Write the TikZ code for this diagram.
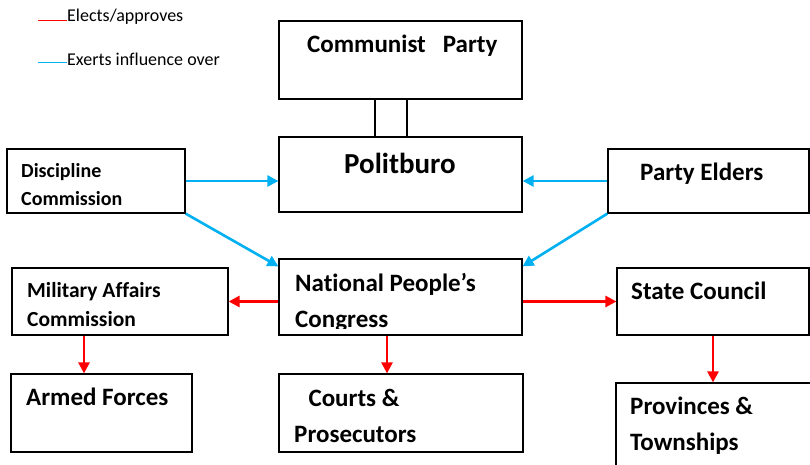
\documentclass[tikz,border=0pt]{standalone}
\usepackage{fontspec}
\setmainfont[Ligatures=NoCommon]{Carlito}
\usetikzlibrary{arrows.meta}
\definecolor{elect}{HTML}{FF0000}
\definecolor{sway}{HTML}{00B0F0}
\definecolor{ink}{HTML}{000000}

\begin{document}
\begin{tikzpicture}[x=1pt,y=-1pt,>={Triangle[length=11pt,width=11pt]},
  box/.style={draw=ink,line width=1.2pt,rectangle,inner sep=0pt},
  lbl/.style={inner sep=0pt,anchor=base west,align=left,font=\bfseries\fontsize{25}{36}\selectfont},
  key/.style={inner sep=0pt,anchor=base west,font=\fontsize{18}{20}\selectfont},
  elects/.style={draw=elect,line width=2.6pt,->},
  sways/.style={draw=sway,line width=2.6pt,->}]
  \clip (0,0) rectangle (810,465);
  \coordinate (k1) at (38,21);
  \coordinate (k2) at (38,63);
  \node[key] (l1) at (67,22) {Elects/approves};
  \node[key] (l2) at (67,66) {Exerts influence over};
  \draw[elect,line width=1pt] (k1) -- (k1 -| l1.base west);
  \draw[sway,line width=1pt] (k2) -- (k2 -| l2.base west);
  \node[box,minimum width=243pt,minimum height=78pt] (cp) at (400.5,60) {};
  \node[box,minimum width=243pt,minimum height=75pt] (pb) at (400.5,174.5) {};
  \node[box,minimum width=178pt,minimum height=64pt] (dc) at (96,181) {};
  \node[box,minimum width=201pt,minimum height=64pt] (pe) at (708.5,181) {};
  \node[box,minimum width=216pt,minimum height=67pt] (mac) at (120,301.5) {};
  \node[box,minimum width=243pt,minimum height=76pt] (npc) at (400.5,297) {};
  \node[box,minimum width=192pt,minimum height=67pt] (sc) at (713,301.5) {};
  \node[box,minimum width=181pt,minimum height=78pt] (af) at (101.5,413) {};
  \node[box,minimum width=244pt,minimum height=78pt] (ct) at (401,413) {};
  \node[box,minimum width=196pt,minimum height=89pt] (pt) at (714,427.5) {};
  \node[lbl] (cpt) at (307,53) {Communist~~~Party};
  \node[lbl,font=\bfseries\fontsize{29}{34}\selectfont] (pbt) at (344,173) {Politburo};
  \node[lbl,font=\bfseries\fontsize{20}{28}\selectfont] (dct) at (21,205) {Discipline\\Commission};
  \node[lbl] (pet) at (640,180.5) {Party Elders};
  \node[lbl,font=\bfseries\fontsize{21.5}{29}\selectfont] (mact) at (27,326) {Military Affairs\\Commission};
  \begin{scope}
    \clip (npc.north west) rectangle ([yshift=7pt]npc.south east);
    \node[lbl] (npct) at (295,327) {National People’s\\Congress};
  \end{scope}
  \node[lbl] (sct) at (631,299) {State Council};
  \node[lbl] (aft) at (26,405.5) {Armed Forces};
  \node[lbl,align=right] (ctt) at (294,442.5) {Courts \&~~~~\\Prosecutors};
  \node[lbl] (ptt) at (630,450) {Provinces \&\\Townships};
  \draw[draw=ink,line width=1.2pt] ([xshift=-25.5pt]cp.south) -- ([xshift=-25.5pt]pb.north);
  \draw[draw=ink,line width=1.2pt] ([xshift=6.5pt]cp.south) -- ([xshift=6.5pt]pb.north);
  \draw[sways] (dc.east) -- (dc.east -| pb.west);
  \draw[sways] (pe.west) -- (pe.west -| pb.east);
  \draw[sways] (dc.south east) -- ([yshift=-8pt]npc.north west);
  \draw[sways] (pe.south west) -- ([yshift=-8pt]npc.north east);
  \draw[elects] (npc.west |- mac.east) -- (mac.east);
  \draw[elects] (npc.east |- sc.west) -- (sc.west);
  \draw[elects] ([xshift=-36pt]mac.south) -- ([xshift=-17.5pt]af.north);
  \draw[elects] ([xshift=-13.5pt]npc.south) -- ([xshift=-14pt]ct.north);
  \draw[elects] (sc.south) -- (sc.south |- pt.north);
\end{tikzpicture}
\end{document}
